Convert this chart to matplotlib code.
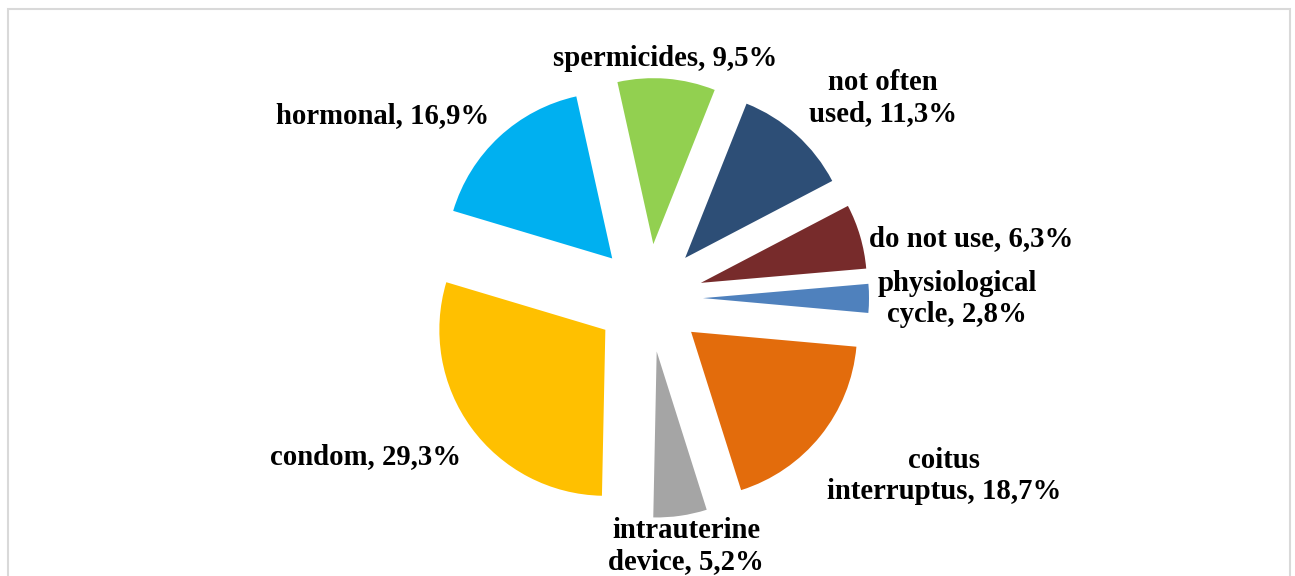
import matplotlib
matplotlib.use("Agg")
import matplotlib.pyplot as plt
from matplotlib.patches import Rectangle

# Contraceptive methods, share of respondents (%)
methods = ["spermicides", "not often\nused", "do not use", "physiological\ncycle",
           "coitus\ninterruptus", "intrauterine\ndevice", "condom", "hormonal"]
shares = [9.5, 11.3, 6.3, 2.8, 18.7, 5.2, 29.3, 16.9]
colors = ["#92D050", "#2D4E76", "#772B2B", "#4F81BD",
          "#E36C0C", "#A5A5A5", "#FFC000", "#00B0F0"]

W, H = 1295, 576
fig = plt.figure(figsize=(W / 100, H / 100), dpi=100)
ax = fig.add_axes([0, 0, 1, 1])

cx, cy = 649, H - 298
radius = 166
gap = 54

ax.pie(shares, colors=colors, startangle=102.5, counterclock=False,
       center=(cx, cy), radius=radius, explode=[gap] * len(shares),
       wedgeprops=dict(linewidth=0))

ax.set_xlim(0, W)
ax.set_ylim(0, H)
ax.set_aspect("equal")
ax.axis("off")

# chart border
ax.add_patch(Rectangle((8, H - 600), 1282, 600 - 9, fill=False,
                       edgecolor="#D9D9D9", linewidth=1.5))

def fmt(v):
    return f"{v:.1f}".replace(".", ",") + "%"

label_pos = {
    "spermicides": (665, 58),
    "not often\nused": (883, 98),
    "do not use": (971, 239),
    "physiological\ncycle": (957, 299),
    "coitus\ninterruptus": (944, 476),
    "intrauterine\ndevice": (686, 546),
    "condom": (366, 457),
    "hormonal": (383, 116),
}

for name, v in zip(methods, shares):
    x, y = label_pos[name]
    ax.text(x, H - y, f"{name}, {fmt(v)}", ha="center", va="center",
            fontsize=20.7, fontweight="bold", family="Liberation Serif",
            linespacing=1.22, color="black")

fig.savefig("out.png", dpi=100)
